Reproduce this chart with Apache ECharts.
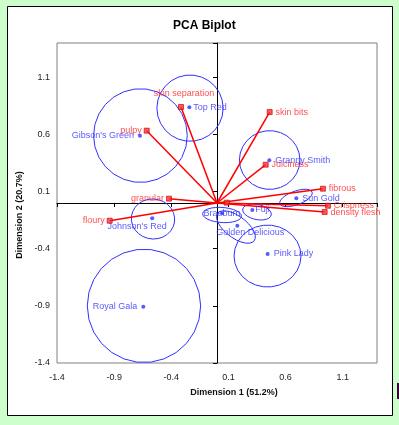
<!DOCTYPE html>
<html>
<head>
<meta charset="utf-8">
<script src="https://cdn.jsdelivr.net/npm/echarts@6/dist/echarts.min.js"></script>
<style>
html, body { margin: 0; padding: 0; background: #ccffcc; }
#chart { width: 399px; height: 425px; }
</style>
</head>
<body>
<div id="chart"></div>
<script>
// axis range / ticks
const axisMin = -1.4
const axisMax = 1.4
const axisStep = 0.5

// apples (observations)
const apples = ['Top Red', "Gibson's Green", 'Granny Smith', 'Sun Gold', 'Braeburn', 'Fuji', 'Golden Delicious', 'Pink Lady', "Johnson's Red", 'Royal Gala']
const appleDim1 = [-0.242, -0.674, 0.458, 0.694, 0.044, 0.309, 0.178, 0.443, -0.567, -0.645]
const appleDim2 = [0.837, 0.589, 0.373, 0.041, -0.09, -0.061, -0.2, -0.446, -0.134, -0.907]

// confidence ellipses per apple: centre, semi axes, rotation in degrees
const ellDim1 = [-0.236, -0.67, 0.461, 0.691, 0.044, 0.35, 0.166, 0.442, -0.56, -0.639]
const ellDim2 = [0.83, 0.59, 0.376, 0.044, -0.105, -0.079, -0.21, -0.464, -0.14, -0.9]
const ellRx = [0.29, 0.41, 0.265, 0.15, 0.17, 0.127, 0.2, 0.293, 0.19, 0.496]
const ellRy = [0.29, 0.41, 0.257, 0.06, 0.066, 0.066, 0.095, 0.271, 0.175, 0.496]
const ellAngle = [0, 0, 0, 20, -4, -12, -37, 0, -8, 0]

// attributes (variables)
const attributes = ['skin separation', 'pulpy', 'skin bits', 'Juiciness', 'fibrous', 'Crispness', 'density flesh', 'granular', 'floury', '']
const attrDim1 = [-0.315, -0.615, 0.461, 0.426, 0.927, 0.971, 0.942, -0.42, -0.939, 0.085]
const attrDim2 = [0.84, 0.633, 0.796, 0.335, 0.125, -0.024, -0.079, 0.038, -0.155, 0.003]

const font = 'Arial, "Liberation Sans", sans-serif'
const blue = '#3030ff'
const red = '#ff2020'

// label placement
const appleLabel = {
	"Gibson's Green": { position: 'left', distance: 4 },
	'Royal Gala': { position: 'left', distance: 4 },
	'Braeburn': { position: 'inside', offset: [0, 0] },
	'Golden Delicious': { position: 'inside', offset: [13, 7] },
	"Johnson's Red": { position: 'inside', offset: [-15, 8] },
	'Fuji': { position: 'right', distance: 1 },
	'Top Red': { position: 'right', distance: 2 }
}
const attrLabel = {
	'skin separation': { position: 'top', distance: 6, offset: [3, 0] },
	'pulpy': { position: 'left', distance: 2 },
	'granular': { position: 'left', distance: 2 },
	'floury': { position: 'left', distance: 2 }
}

const appleData = apples.map((n, i) => ({
	name: n,
	value: [appleDim1[i], appleDim2[i]],
	label: appleLabel[n] || { position: 'right', distance: 4 }
}))
const attrData = attributes.map((n, i) => ({
	name: n,
	value: [attrDim1[i], attrDim2[i]],
	label: attrLabel[n] || { position: 'right', distance: 3 }
}))
const vectorData = attributes.map((n, i) => ({
	coords: [[0, 0], [attrDim1[i], attrDim2[i]]]
}))
const ellipseData = apples.map((n, i) => [ellDim1[i], ellDim2[i], ellRx[i], ellRy[i], ellAngle[i]])

function renderEllipse(params, api) {
	const cx = api.value(0), cy = api.value(1)
	const rx = api.value(2), ry = api.value(3)
	const a = api.value(4) * Math.PI / 180
	const pts = []
	for (let k = 0; k < 26; k++) {
		const t = k / 26 * Math.PI * 2
		const x = rx * Math.cos(t), y = ry * Math.sin(t)
		pts.push(api.coord([cx + x * Math.cos(a) - y * Math.sin(a), cy + x * Math.sin(a) + y * Math.cos(a)]))
	}
	return {
		type: 'polygon',
		shape: { points: pts },
		style: { fill: 'none', stroke: blue, lineWidth: 1 }
	}
}

const edgeAxis = (isX) => ({
	type: 'value',
	min: axisMin,
	max: axisMax,
	interval: axisStep,
	position: isX ? 'bottom' : 'left',
	axisLine: { show: false, onZero: false },
	axisTick: { show: false },
	splitLine: { show: false },
	axisLabel: {
		showMaxLabel: false,
		color: '#222',
		fontSize: 9,
		fontFamily: font,
		margin: isX ? 10 : 7
	},
	name: isX ? 'Dimension 1 (51.2%)' : 'Dimension 2 (20.7%)',
	nameLocation: 'middle',
	nameGap: isX ? 25 : 27,
	nameTextStyle: {
		color: '#111',
		fontSize: 9,
		fontWeight: 'bold',
		fontFamily: font,
		padding: isX ? [0, 0, 0, 34] : [0, 24, 0, 0]
	}
})
const zeroAxis = (isX) => ({
	type: 'value',
	min: axisMin,
	max: axisMax,
	interval: axisStep,
	position: isX ? 'top' : 'right',
	axisLine: { show: true, onZero: true, lineStyle: { color: '#000', width: 1 } },
	axisTick: { show: true, inside: true, length: 4, lineStyle: { color: '#000' } },
	axisLabel: { show: false },
	splitLine: { show: false }
})

const option = {
	backgroundColor: '#ccffcc',
	animation: false,
	title: {
		text: 'PCA Biplot',
		left: 173,
		top: 20,
		padding: 0,
		textStyle: { fontSize: 12, fontWeight: 'bold', color: '#000', fontFamily: font }
	},
	graphic: [{
		type: 'rect',
		z: -10,
		silent: true,
		shape: { x: 7.5, y: 6.5, width: 385, height: 409 },
		style: { fill: '#fff', stroke: '#000', lineWidth: 1 }
	}, {
		type: 'rect',
		z: -10,
		silent: true,
		shape: { x: 397, y: 383, width: 3, height: 16 },
		style: { fill: '#400040' }
	}],
	grid: {
		left: 57,
		right: 22,
		top: 43,
		bottom: 62,
		show: true,
		backgroundColor: '#fff',
		borderColor: '#808080',
		borderWidth: 1
	},
	xAxis: [edgeAxis(true), zeroAxis(true)],
	yAxis: [edgeAxis(false), zeroAxis(false)],
	series: [{
		type: 'custom',
		renderItem: renderEllipse,
		encode: { x: 0, y: 1 },
		data: ellipseData,
		silent: true,
		z: 2
	}, {
		type: 'lines',
		coordinateSystem: 'cartesian2d',
		data: vectorData,
		lineStyle: { color: '#ff0000', width: 1.5, opacity: 1 },
		silent: true,
		z: 3
	}, {
		type: 'scatter',
		data: attrData,
		symbol: 'rect',
		symbolSize: 5,
		itemStyle: { color: '#ff3030', borderColor: '#c00000', borderWidth: 0.8 },
		label: {
			show: true,
			formatter: '{b}',
			color: red,
			fontSize: 9,
			fontFamily: font
		},
		z: 4
	}, {
		type: 'scatter',
		data: appleData,
		symbol: 'circle',
		symbolSize: 4,
		itemStyle: { color: blue },
		label: {
			show: true,
			formatter: '{b}',
			color: blue,
			fontSize: 9,
			fontFamily: font
		},
		z: 5
	}]
}

const chart = echarts.init(document.getElementById('chart'))
chart.setOption(option)
</script>
</body>
</html>
